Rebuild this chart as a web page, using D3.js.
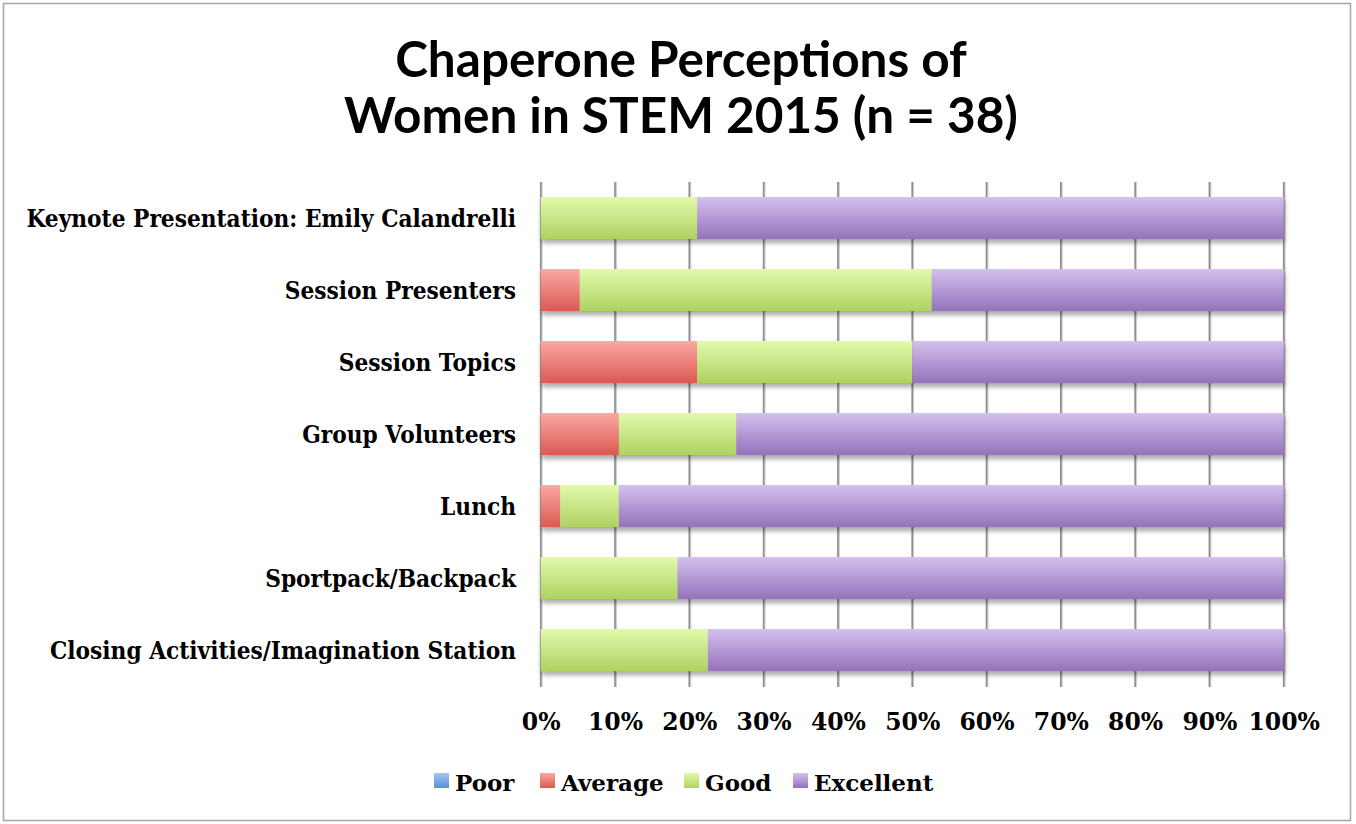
<!DOCTYPE html>
<html><head><meta charset="utf-8">
<script src="https://cdn.jsdelivr.net/npm/d3@7"></script>
<style>body{margin:0;background:#fff}</style>
</head><body>
<script>
const categories = ["Keynote Presentation: Emily Calandrelli","Session Presenters","Session Topics","Group Volunteers","Lunch","Sportpack/Backpack","Closing Activities/Imagination Station"];
const seriesNames = ["Poor","Average","Good","Excellent"];
const poor      = [0,0,0,0,0,0,0];
const average   = [0,5.26,21.05,10.53,2.63,0,0];
const good      = [21.05,47.37,28.95,15.79,7.89,18.42,22.5];
const excellent = [78.95,47.37,50.0,73.68,89.47,81.58,77.5];
const tickValues = [0,10,20,30,40,50,60,70,80,90,100];
const titleLines = ["Chaperone Perceptions of","Women in STEM 2015 (n = 38)"];

const W=1356,H=824;
const svg=d3.select("body").append("svg").attr("width",W).attr("height",H);
const defs=svg.append("defs");
const grads=[["#a3c8f5","#5a8fd2"],["#fba9a3","#dc5850"],["#e1faab","#afd262"],["#d4c0ef","#9472ba"]];
grads.forEach((g,i)=>{
  const lg=defs.append("linearGradient").attr("id","g"+i).attr("x1",0).attr("x2",0).attr("y1",0).attr("y2",1);
  lg.append("stop").attr("offset","0%").attr("stop-color",g[0]);
  lg.append("stop").attr("offset","100%").attr("stop-color",g[1]);
});
const f=defs.append("filter").attr("id","sh").attr("x","-5%").attr("y","-20%").attr("width","110%").attr("height","160%");
f.append("feGaussianBlur").attr("in","SourceAlpha").attr("stdDeviation",2.5).attr("result","b");
f.append("feOffset").attr("in","b").attr("dx",1).attr("dy",4).attr("result","o");
f.append("feComponentTransfer").attr("in","o").attr("result","o2").append("feFuncA").attr("type","linear").attr("slope",0.35);
const fm=f.append("feMerge");fm.append("feMergeNode").attr("in","o2");fm.append("feMergeNode").attr("in","SourceGraphic");

svg.append("rect").attr("x",3.5).attr("y",3.5).attr("width",1347).attr("height",817).attr("fill","#fff").attr("stroke","#a6a6a6").attr("stroke-width",1.5);

const x=d3.scaleLinear().domain([0,100]).range([540.7,1283.7]);
const y=d3.scaleBand().domain(categories).range([182,686]).paddingInner(0.4167).paddingOuter(0.2083);

// gridlines
const gg=svg.append("g");
gg.selectAll("line.s").data(tickValues).join("line")
  .attr("x1",d=>x(d)+1).attr("x2",d=>x(d)+1).attr("y1",182).attr("y2",687)
  .attr("stroke","#d0d0d0").attr("stroke-width",2);
gg.selectAll("line.m").data(tickValues).join("line")
  .attr("x1",d=>x(d)).attr("x2",d=>x(d)).attr("y1",182).attr("y2",687)
  .attr("stroke","#8c8c8c").attr("stroke-width",1.6);

const data=categories.map((c,i)=>({cat:c,vals:[poor[i],average[i],good[i],excellent[i]]}));
const stack=d3.stack().keys([0,1,2,3]).value((d,k)=>d.vals[k]);
const layers=stack(data);
const bars=svg.append("g").attr("filter","url(#sh)");
layers.forEach((L,k)=>{
  bars.selectAll(null).data(L.filter(d=>d[1]-d[0]>0)).join("rect")
    .attr("x",d=>x(d[0])).attr("width",d=>x(d[1])-x(d[0]))
    .attr("y",d=>y(d.data.cat)).attr("height",y.bandwidth())
    .attr("fill","url(#g"+k+")");
});

const serif="'DejaVu Serif', serif";
// x axis labels
const xa=d3.axisBottom(x).tickValues(tickValues).tickFormat(d=>d+"%").tickSize(0).tickPadding(0);
const xg=svg.append("g").attr("transform","translate(0,730)").call(xa);
xg.select(".domain").remove();
xg.selectAll("text").attr("dy",0).attr("font-family",serif).attr("font-weight","bold").attr("font-size",23.5).attr("fill","#000");

// y axis labels
const ya=d3.axisLeft(y).tickSize(0).tickPadding(0);
const yg=svg.append("g").attr("transform","translate(516,0)").call(ya);
yg.select(".domain").remove();
yg.selectAll("text").attr("font-family",serif).attr("font-weight","bold").attr("font-size",25).attr("fill","#000")
  .attr("dy","0.36em").attr("transform","scale(0.87,1)");

// title
svg.append("g").selectAll("text").data(titleLines).join("text")
  .attr("x",681).attr("y",(d,i)=>77+i*56).attr("text-anchor","middle")
  .attr("font-family","Lato, sans-serif").attr("font-weight","bold").attr("font-size",49.5).attr("fill","#000").text(d=>d);

// legend
const legX=[434,540,684,793];
const lg=svg.append("g");
seriesNames.forEach((n,i)=>{
  lg.append("rect").attr("x",legX[i]).attr("y",773).attr("width",15).attr("height",15).attr("fill","url(#g"+i+")");
  lg.append("text").attr("x",legX[i]+21).attr("y",791).attr("font-family",serif).attr("font-weight","bold").attr("font-size",23).text(n);
});
</script>
</body></html>
